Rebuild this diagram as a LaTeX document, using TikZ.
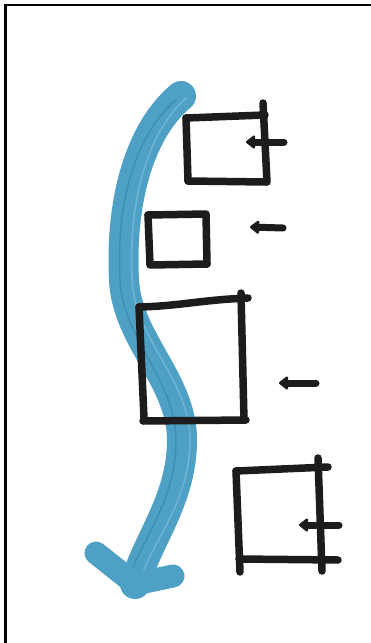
\documentclass[tikz,border=0pt]{standalone}
\usetikzlibrary{calc,arrows.meta}
\definecolor{marker}{RGB}{78,160,196}
\definecolor{markerdark}{RGB}{60,142,178}
\definecolor{markerlight}{RGB}{112,182,212}
\definecolor{ink}{RGB}{28,28,28}
\tikzset{
  pen/.style={draw=ink,line width=7.5pt,line cap=round,line join=round},
  penarrow/.style={draw=ink,line width=7pt,line cap=round,-{Triangle[length=10pt,width=15pt,round]}},
  brush/.style={draw=marker,line width=30pt,line cap=round,line join=round},
  brushhead/.style={draw=marker,line width=23pt,line cap=round},
  streak/.style={draw=markerlight,line width=1.5pt,line cap=round},
  frameline/.style={draw=black,line width=2.6pt}
}
\begin{document}
\begin{tikzpicture}[x=1pt,y=-1pt]
\useasboundingbox (0,0) rectangle (371,643);
\fill[white] (0,0) rectangle (371,643);
% frame
\coordinate (f0) at (5.5,643);
\coordinate (f1) at (5.5,5);
\coordinate (f2) at (371,5);
\draw[frameline] (f0) -- (f1) -- (f2);

% blue marker arrow
\coordinate (b0) at (181,96);
\coordinate (tip) at (135,584);
\draw[brush] (b0) .. controls (140,130) and (120,200) .. (124,280)
  .. controls (127,340) and (182,380) .. (182,440)
  .. controls (182,500) and (147,540) .. (tip);
\draw[streak] (186,98) .. controls (148,132) and (128,200) .. (132,280)
  .. controls (135,340) and (190,380) .. (190,440)
  .. controls (190,500) and (154,540) .. (142,575);
\draw[streak,draw=markerdark] (176,100) .. controls (136,134) and (116,200) .. (120,280)
  .. controls (123,340) and (176,380) .. (176,440)
  .. controls (176,500) and (142,540) .. (130,575);
\coordinate (armL) at (96,553);
\coordinate (armR) at (173,576);
\draw[brushhead] (armL) -- (tip) -- (armR);

% box 1
\coordinate (a1) at (186,118); \coordinate (a2) at (264,116);
\coordinate (a3) at (266,182); \coordinate (a4) at (188,181);
\draw[pen] (a1) -- (265,115);
\draw[pen] (a1) -- (a4);
\draw[pen] (263,103) -- (267,182);
\draw[pen] (a4) -- (a3);
\coordinate (s1) at (284,142);
\coordinate (e1) at (246,142);
\draw[penarrow] (s1) -- (e1);

% box 2
\coordinate (c1) at (148,215); \coordinate (c2) at (206,214);
\coordinate (c3) at (207,264); \coordinate (c4) at (150,265);
\draw[pen] (c1) -- (c2) -- (c3);
\draw[pen] (c1) -- (c4) -- (c3);
\coordinate (s2) at (283,228);
\coordinate (e2) at (250,227);
\draw[penarrow] (s2) -- (e2);

% box 3
\coordinate (d1) at (139,307); \coordinate (d2) at (248,298);
\coordinate (d3) at (246,420); \coordinate (d4) at (143,421);
\draw[pen] (d1) .. controls (180,306) and (200,300) .. (d2);
\draw[pen] (241,293) -- (244,420);
\draw[pen] (d1) -- (144,418);
\draw[pen] (d4) -- (d3);
\coordinate (s3) at (316,383);
\coordinate (e3) at (279,383);
\draw[penarrow] (s3) -- (e3);

% box 4
\coordinate (g1) at (236,471); \coordinate (g2) at (328,467);
\coordinate (g3) at (338,560); \coordinate (g4) at (239,559);
\draw[pen] (g1) -- (g2);
\draw[pen] (318,458) -- (322,571);
\draw[pen] (g1) -- (240,572);
\draw[pen] (g4) -- (g3);
\coordinate (s4) at (339,525);
\coordinate (e4) at (299,525);
\draw[penarrow] (s4) -- (e4);
\end{tikzpicture}
\end{document}
